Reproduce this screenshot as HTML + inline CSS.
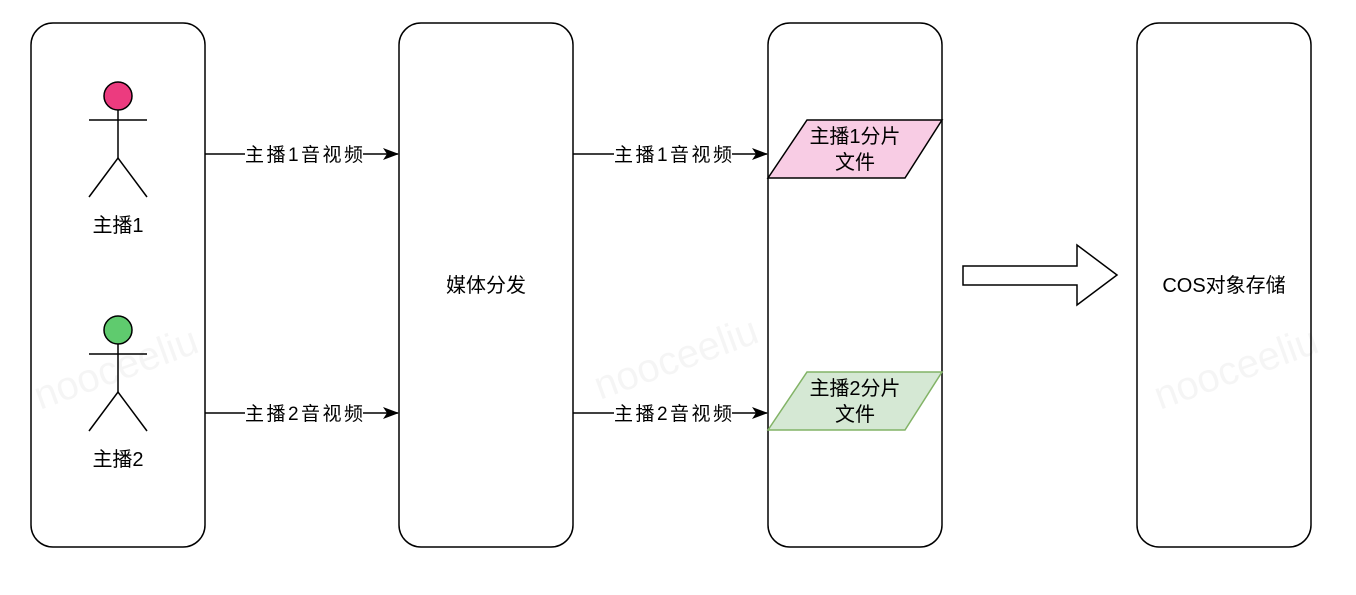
<!DOCTYPE html>
<html><head><meta charset="utf-8"><style>
body{margin:0;background:#fff}
svg text{font-family:"Liberation Sans","Noto Sans CJK SC",sans-serif;font-size:20px;fill:#000}
</style></head><body>
<svg width="1356" height="590" viewBox="0 0 1356 590" xmlns="http://www.w3.org/2000/svg">
<defs><marker id="a" markerWidth="16" markerHeight="12" refX="15" refY="6" orient="auto" markerUnits="userSpaceOnUse"><path d="M0,0 L16,6 L0,12 L4,6 z" fill="#000"/></marker></defs>
<g fill="none" stroke="#000" stroke-width="1.5">
<rect x="31" y="23" width="174" height="524" rx="22"/>
<rect x="399" y="23" width="174" height="524" rx="22"/>
<rect x="768" y="23" width="174" height="524" rx="22"/>
<rect x="1137" y="23" width="174" height="524" rx="22"/>
</g>
<g stroke="#000" stroke-width="1.5" fill="none">
<line x1="118" y1="110" x2="118" y2="158"/><line x1="89" y1="120" x2="147" y2="120"/><polyline points="89,197 118,158 147,197"/>
<line x1="118" y1="344" x2="118" y2="392"/><line x1="89" y1="354" x2="147" y2="354"/><polyline points="89,431 118,392 147,431"/>
</g>
<circle cx="118" cy="96" r="14" fill="#ec3b7f" stroke="#000" stroke-width="1.5"/>
<circle cx="118" cy="330" r="14" fill="#5fcb6e" stroke="#000" stroke-width="1.5"/>
<text x="118" y="232" text-anchor="middle">主播1</text>
<text x="118" y="466" text-anchor="middle">主播2</text>
<g stroke="#000" stroke-width="1.5" marker-end="url(#a)">
<line x1="205" y1="154" x2="398" y2="154"/><line x1="205" y1="413" x2="398" y2="413"/>
<line x1="573" y1="154" x2="767" y2="154"/><line x1="573" y1="413" x2="767" y2="413"/>
</g>
<rect x="245" y="142" width="118" height="24" fill="#fff"/><text x="304" y="161" text-anchor="middle" textLength="118" style="font-size:19px">主播1音视频</text>
<rect x="245" y="401" width="118" height="24" fill="#fff"/><text x="304" y="420" text-anchor="middle" textLength="118" style="font-size:19px">主播2音视频</text>
<rect x="614" y="142" width="118" height="24" fill="#fff"/><text x="673" y="161" text-anchor="middle" textLength="118" style="font-size:19px">主播1音视频</text>
<rect x="614" y="401" width="118" height="24" fill="#fff"/><text x="673" y="420" text-anchor="middle" textLength="118" style="font-size:19px">主播2音视频</text>
<polygon points="807,120 942,120 905,178 768,178" fill="#f8cce4" stroke="#000" stroke-width="1.5"/>
<polygon points="807,372 942,372 905,430 768,430" fill="#d5e8d4" stroke="#82b366" stroke-width="1.5"/>
<text x="855" y="143" text-anchor="middle">主播1分片</text>
<text x="855" y="169" text-anchor="middle">文件</text>
<text x="855" y="395" text-anchor="middle">主播2分片</text>
<text x="855" y="421" text-anchor="middle">文件</text>
<text x="486" y="292" text-anchor="middle">媒体分发</text>
<text x="1224" y="292" text-anchor="middle">COS对象存储</text>
<polygon points="963,266 1077,266 1077,245 1117,275 1077,305 1077,285 963,285" fill="#fff" stroke="#000" stroke-width="1.5"/>
<text x="40" y="410" transform="rotate(-20 40 410)" style="font-size:40px;fill-opacity:0.04">nooceeliu</text>
<text x="600" y="400" transform="rotate(-20 600 400)" style="font-size:40px;fill-opacity:0.04">nooceeliu</text>
<text x="1160" y="410" transform="rotate(-20 1160 410)" style="font-size:40px;fill-opacity:0.04">nooceeliu</text>
</svg>
</body></html>
